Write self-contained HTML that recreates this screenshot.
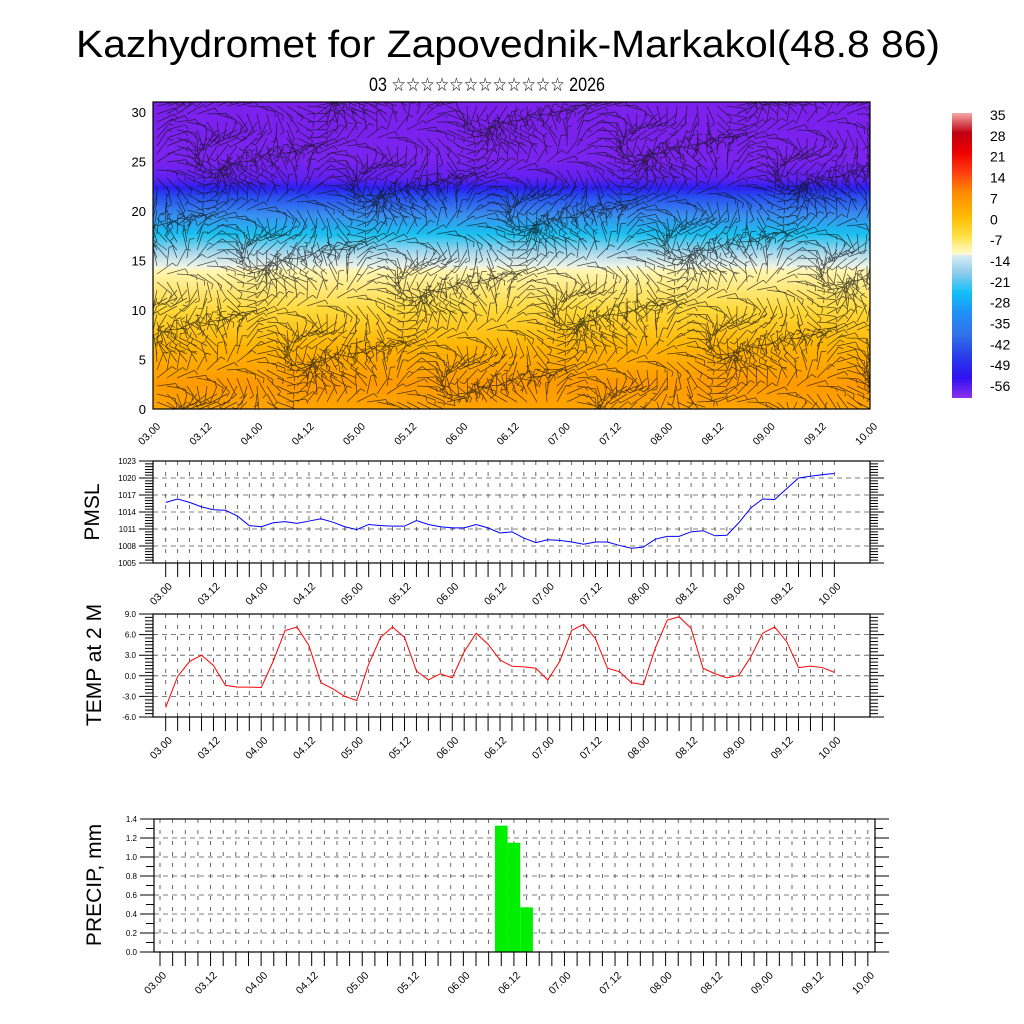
<!DOCTYPE html>
<html><head><meta charset="utf-8"><style>
body{margin:0;background:#fff}
svg{display:block;font-family:"Liberation Sans","DejaVu Sans",sans-serif}
</style></head><body>
<svg id="c" width="1024" height="1024" viewBox="0 0 1024 1024">
<defs>
<linearGradient id="tg" x1="0" y1="0" x2="0" y2="1">
<stop offset="0" stop-color="#7c20ee"/><stop offset="0.19" stop-color="#7a22ee"/>
<stop offset="0.25" stop-color="#6020f0"/><stop offset="0.28" stop-color="#2a20f0"/>
<stop offset="0.31" stop-color="#2850f0"/><stop offset="0.37" stop-color="#3a90f0"/>
<stop offset="0.43" stop-color="#18c0f0"/><stop offset="0.49" stop-color="#a8d8ee"/>
<stop offset="0.535" stop-color="#eef4e8"/><stop offset="0.55" stop-color="#fff6b0"/>
<stop offset="0.68" stop-color="#ffd838"/><stop offset="0.8" stop-color="#ffb400"/>
<stop offset="0.92" stop-color="#ff9a00"/><stop offset="1" stop-color="#ffa400"/>
</linearGradient>
<linearGradient id="cb" x1="0" y1="1" x2="0" y2="0">
<stop offset="0" stop-color="#8a30ee"/><stop offset="0.07" stop-color="#3010f0"/>
<stop offset="0.14" stop-color="#2838e8"/><stop offset="0.22" stop-color="#3070e8"/>
<stop offset="0.3" stop-color="#2090f8"/><stop offset="0.37" stop-color="#10c0f8"/>
<stop offset="0.44" stop-color="#90cceb"/><stop offset="0.5" stop-color="#d8ecf4"/>
<stop offset="0.505" stop-color="#fffcd0"/><stop offset="0.57" stop-color="#ffe040"/>
<stop offset="0.64" stop-color="#ffb800"/><stop offset="0.72" stop-color="#ff8c00"/>
<stop offset="0.79" stop-color="#ff4010"/><stop offset="0.86" stop-color="#ee0000"/>
<stop offset="0.93" stop-color="#c00010"/><stop offset="1" stop-color="#f4a8a8"/>
</linearGradient>
</defs>
<text x="508" y="57" text-anchor="middle" font-size="38" textLength="864" lengthAdjust="spacingAndGlyphs">Kazhydromet for Zapovednik-Markakol(48.8 86)</text>
<text x="487" y="91" text-anchor="middle" font-size="19" textLength="236" lengthAdjust="spacingAndGlyphs">03 ☆☆☆☆☆☆☆☆☆☆☆☆ 2026</text>
<g id="topg"></g>
<g id="pm"></g>
<g id="tm"></g>
<g id="pr"></g>
<text transform="translate(99,512) rotate(-90)" text-anchor="middle" font-size="21">PMSL</text>
<text transform="translate(101,665) rotate(-90)" text-anchor="middle" font-size="21">TEMP at 2 M</text>
<text transform="translate(101,885) rotate(-90)" text-anchor="middle" font-size="21">PRECIP, mm</text>
</svg>
<script>
const dayLabels=["03.00","03.12","04.00","04.12","05.00","05.12","06.00","06.12","07.00","07.12","08.00","08.12","09.00","09.12","10.00"];
const pmsl=[1015.7,1016.3,1015.7,1014.9,1014.4,1014.3,1013.3,1011.6,1011.4,1012.1,1012.3,1012.0,1012.4,1012.8,1012.2,1011.4,1010.9,1011.8,1011.6,1011.5,1011.5,1012.5,1011.8,1011.4,1011.2,1011.2,1011.8,1011.2,1010.3,1010.5,1009.4,1008.6,1009.1,1009.0,1008.7,1008.3,1008.7,1008.7,1008.1,1007.6,1007.8,1009.2,1009.7,1009.7,1010.5,1010.7,1009.8,1009.9,1012.1,1014.7,1016.3,1016.2,1018.1,1020.0,1020.3,1020.6,1020.8];
const temp=[-4.6,-0.1,2.1,3.0,1.5,-1.4,-1.65,-1.65,-1.7,2.1,6.6,7.1,4.4,-1.0,-1.9,-3.0,-3.6,1.7,5.6,7.1,5.6,0.7,-0.6,0.3,-0.3,3.5,6.2,4.6,2.3,1.4,1.3,1.1,-0.6,2.1,6.6,7.5,5.4,1.1,0.6,-1.0,-1.3,4.0,8.1,8.6,6.9,1.1,0.3,-0.3,0.05,2.75,6.2,7.1,5.0,1.2,1.4,1.2,0.5];
const precipIdx=[27,28,29];
const precipVal=[1.33,1.15,0.47];
const pmslTicks=[1005,1008,1011,1014,1017,1020,1023];
const tempTicks=[-6,-3,0,3,6,9];
const precipTicks=[0,0.2,0.4,0.6,0.8,1.0,1.2,1.4];
const topTicks=[0,5,10,15,20,25,30];
const cbLabels=[35,28,21,14,7,0,-7,-14,-21,-28,-35,-42,-49,-56];

const NS="http://www.w3.org/2000/svg";
function mk(p,t,a){const e=document.createElementNS(NS,t);for(const k in a)e.setAttribute(k,a[k]);p.appendChild(e);return e;}

const topG=document.getElementById('topg');
const TX0=153,TX1=870,TY0=102,TY1=409;
const ty=v=>TY1-v*(TY1-112)/30;
let r=mk(topG,'rect',{x:TX0,y:TY0,width:TX1-TX0,height:TY1-TY0,fill:'url(#tg)'});


let wb=mk(topG,'g',{stroke:'#111','stroke-width':0.75,opacity:0.72});


let d='';
for(let y=TY0+4;y<TY1;y+=8){for(let x=TX0+4;x<TX1;x+=10){
 const a=Math.sin(x*0.031+y*0.05)*1.6+Math.cos(y*0.07-x*0.013)*1.2;
 const L=19,dx=Math.cos(a)*L,dy=Math.sin(a)*L;
 const x2=Math.max(TX0,Math.min(TX1,x+dx)),y2=Math.max(TY0,Math.min(TY1,y+dy));
 d+=`M${x.toFixed(1)} ${y}L${x2.toFixed(1)} ${y2.toFixed(1)}`;
 const bx=x2+Math.cos(a+1.3)*5,by=y2+Math.sin(a+1.3)*5;
 if(bx>TX0&&bx<TX1&&by>TY0&&by<TY1)d+=`M${x2.toFixed(1)} ${y2.toFixed(1)}L${bx.toFixed(1)} ${by.toFixed(1)}`;
}}
mk(wb,'path',{d:d,fill:'none'});
mk(topG,'rect',{x:TX0,y:TY0,width:TX1-TX0,height:TY1-TY0,fill:'none',stroke:'#000','stroke-width':1.2});
topTicks.forEach(v=>{let t=mk(topG,'text',{x:146,y:ty(v)+5,'text-anchor':'end','font-size':13});t.textContent=v;
});
dayLabels.forEach((s,i)=>{const x=TX0+i*(TX1-TX0)/14;
 let t=mk(topG,'text',{transform:`translate(${x+8},${427}) rotate(-45)`,'text-anchor':'end','font-size':10.5});t.textContent=s;
 });
let cbr=mk(topG,'rect',{x:952,y:113,width:20,height:285,fill:'url(#cb)'});


cbLabels.forEach((v,i)=>{let t=mk(topG,'text',{x:990,y:120+i*20.85,'font-size':14});t.textContent=v;
 });

function panel(g,X0,X1,Y0,Y1,lo,hi,ticks,fmt,x0,dx,n,minorPer){
 const ys=v=>Y1-(v-lo)/(hi-lo)*(Y1-Y0);
 const xs=i=>x0+i*dx;
 mk(g,'rect',{x:X0,y:Y0,width:X1-X0,height:Y1-Y0,fill:'#fff'});
 let gd='',vd='',tk='';
 ticks.forEach((v,k)=>{const y=ys(v);gd+=`M${X0} ${y}H${X1}`;tk+=`M${X0-14} ${y}H${X0}M${X1} ${y}H${X1+14}`;
  if(k<ticks.length-1)for(let m=1;m<minorPer;m++){const yy=y-(Y1-Y0)/(ticks.length-1)*m/minorPer;tk+=`M${X0-8} ${yy}H${X0}M${X1} ${yy}H${X1+8}`;}
  let t=mk(g,'text',{x:X0-17,y:y+3,'text-anchor':'end','font-size':8});t.textContent=fmt(v);
  });
 for(let i=0;i<n;i++){const x=xs(i);vd+=`M${x} ${Y0}V${Y1}`;tk+=`M${x} ${Y1}V${Y1+14}`;}
 mk(g,'path',{d:gd,stroke:'#555','stroke-width':0.8,'stroke-dasharray':'5 4',fill:'none'});
 mk(g,'path',{d:vd,stroke:'#444','stroke-width':0.8,'stroke-dasharray':'4 7',fill:'none'});
 mk(g,'path',{d:tk,stroke:'#000','stroke-width':1,fill:'none'});
 dayLabels.forEach((s,k)=>{const x=xs(k*4);
  let t=mk(g,'text',{transform:`translate(${x+7},${Y1+24}) rotate(-45)`,'text-anchor':'end','font-size':10.5});t.textContent=s;
  });
 return {xs,ys};
}
function border(g,X0,X1,Y0,Y1){mk(g,'rect',{x:X0,y:Y0,width:X1-X0,height:Y1-Y0,fill:'none',stroke:'#000','stroke-width':1.2});}

const pm=document.getElementById('pm');
let P=panel(pm,153,870,461,563,1005,1023,pmslTicks,v=>v,165.7,11.94,57,6);
let pl=mk(pm,'polyline',{points:pmsl.map((v,i)=>P.xs(i)+','+P.ys(v)).join(' '),fill:'none',stroke:'#00f','stroke-width':1});


border(pm,153,870,461,563);

const tm=document.getElementById('tm');
let T=panel(tm,153,870,614,717,-6,9,tempTicks,v=>v.toFixed(1),165.7,11.94,57,6);
let tl=mk(tm,'polyline',{points:temp.map((v,i)=>T.xs(i)+','+T.ys(v)).join(' '),fill:'none',stroke:'#f00','stroke-width':1});


border(tm,153,870,614,717);

const pr=document.getElementById('pr');
let R=panel(pr,154,875,819,952,0,1.4,precipTicks,v=>v.toFixed(1),160,12.64,57,2);
precipIdx.forEach((idx,k)=>{const x=R.xs(idx),v=precipVal[k];
 let b=mk(pr,'rect',{x:x-6.32,y:R.ys(v),width:12.64,height:952-R.ys(v),fill:'#00ee00'});
 
 });
border(pr,154,875,819,952);
</script>
</body></html>
